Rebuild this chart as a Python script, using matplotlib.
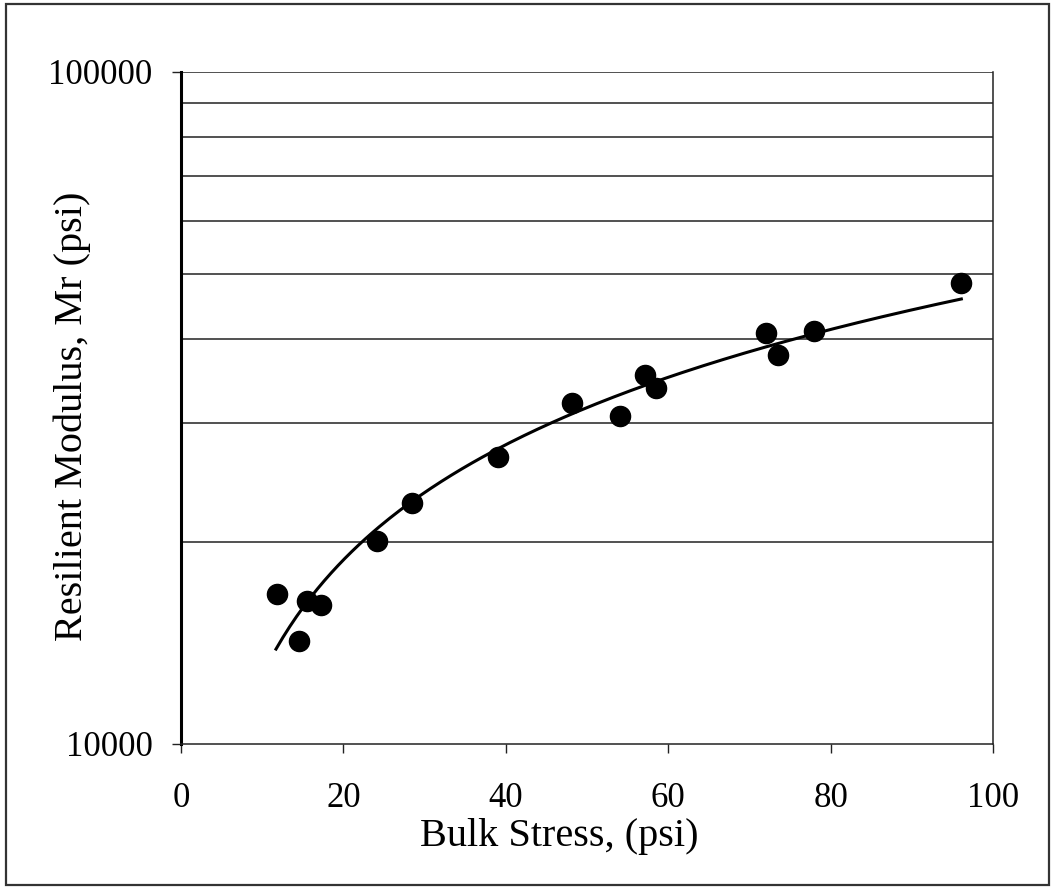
import numpy as np
import matplotlib
matplotlib.use('Agg')
import matplotlib.pyplot as plt
from matplotlib.ticker import FixedLocator, NullFormatter
from matplotlib.patches import Rectangle

plt.rcParams['font.family'] = ['Liberation Serif', 'DejaVu Serif']

# bulk stress (psi) vs resilient modulus (psi)
bulk = [11.8, 14.5, 15.5, 17.2, 24.1, 28.5, 39.0, 48.1, 54.1, 57.1, 58.5, 72.1, 73.5, 78.0, 96.1]
mr = [16700, 14250, 16300, 16100, 20050, 22800, 26750, 32200, 30750, 35400, 33900, 40900, 37900, 41200, 48600]

# power trendline fitted to the points (Excel style)
n, lk = np.polyfit(np.log(bulk), np.log(mr), 1)
xf = np.linspace(min(bulk) - 0.1, max(bulk), 200)
yf = np.exp(lk) * xf**n

fig = plt.figure(figsize=(10.55, 8.89), dpi=100)
ax = fig.add_axes([181/1055, 1-744/889, (993-181)/1055, (744-72)/889])

ax.plot(xf, yf, color='black', lw=2.2, zorder=3)
ax.plot(bulk, mr, 'o', color='black', ms=14.5, zorder=4)

ax.set_yscale('log')
ax.set_xlim(0, 100); ax.set_ylim(10000, 100000)
ax.set_xticks([0, 20, 40, 60, 80, 100])
ax.yaxis.set_major_locator(FixedLocator([10000, 100000]))
ax.yaxis.set_minor_locator(FixedLocator([20000, 30000, 40000, 50000, 60000, 70000, 80000, 90000]))
ax.yaxis.set_minor_formatter(NullFormatter())
ax.set_yticklabels(['10000', '100000'])
for v in range(20000, 100000, 10000):
    ax.axhline(v, color='#222222', lw=1.1, zorder=1)
ax.axhline(100000, color='#222222', lw=1.1, zorder=1)

ax.tick_params(axis='both', which='major', direction='out', length=6.5, width=1.0, labelsize=25, color='#222222')
ax.tick_params(axis='x', pad=21)
ax.tick_params(axis='y', pad=14)
ax.tick_params(axis='y', which='minor', length=0)
for s in ['top', 'right', 'bottom']:
    ax.spines[s].set_linewidth(1.1)
    ax.spines[s].set_color('#222222')
ax.spines['left'].set_linewidth(2.2)
ax.spines['top'].set_visible(False)

ax.set_xlabel('Bulk Stress, (psi)', fontsize=29)
ax.set_ylabel('Resilient Modulus, Mr (psi)', fontsize=29)
ax.xaxis.set_label_coords((559-181)/812, (744-818)/672)
ax.yaxis.set_label_coords((91-181)/812, (744-416)/672)

fig.patches.append(Rectangle((6/1055, 4/889), 1043/1055, 881/889, transform=fig.transFigure,
                             fill=False, edgecolor='#333333', lw=1.6))

fig.savefig('out.png', dpi=100)
